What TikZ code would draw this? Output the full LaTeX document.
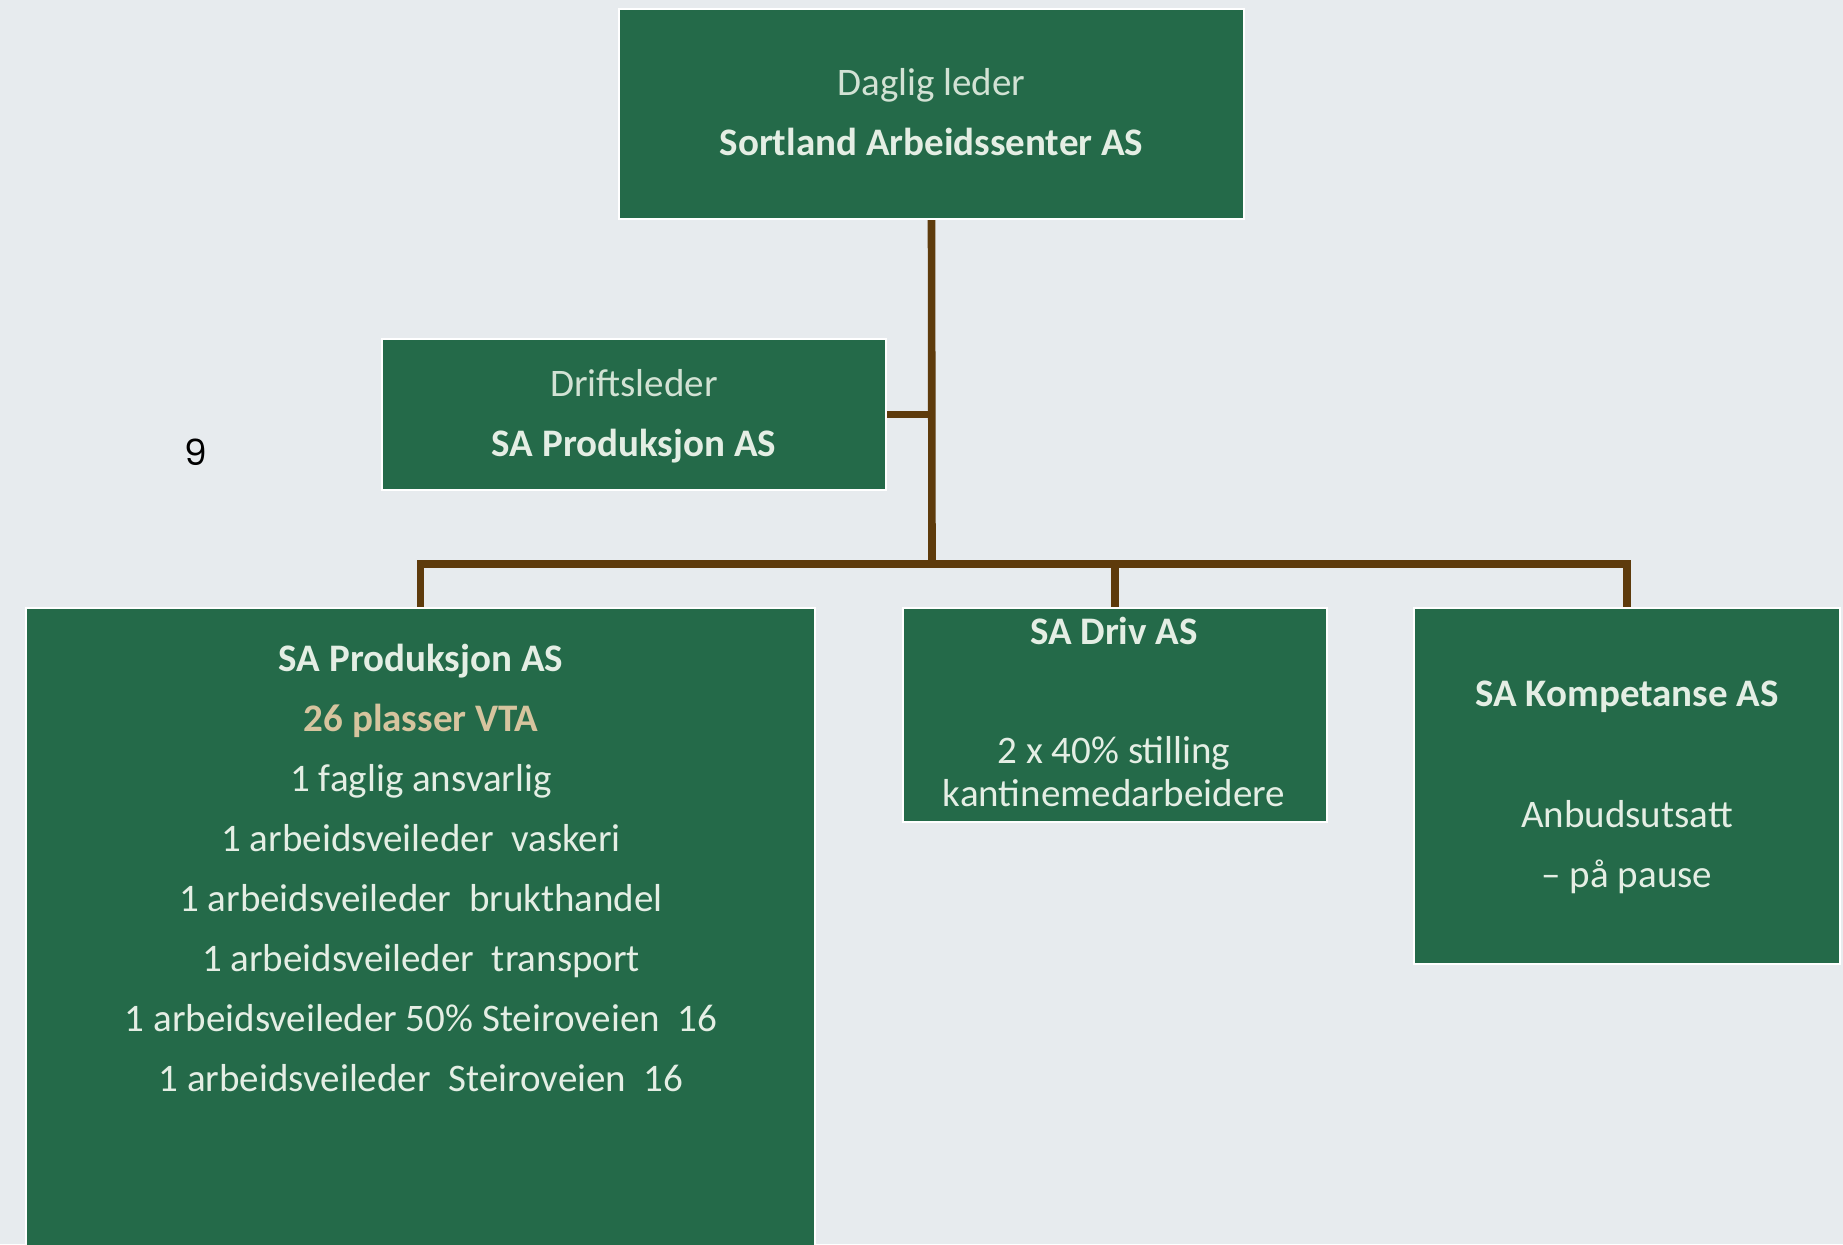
\documentclass[tikz,border=0pt]{standalone}
\usepackage{fontspec}
\setmainfont{Carlito}
\newfontfamily\ninefont{Poppins}
\definecolor{bg}{HTML}{E7EBEE}
\definecolor{boxgreen}{HTML}{246A49}
\definecolor{txt}{HTML}{E4EEE4}
\definecolor{dim}{HTML}{D2E2D4}
\definecolor{tanc}{HTML}{D6C49E}
\definecolor{linec}{HTML}{5E3B0C}
\tikzset{
  orgbox/.style={draw=white, line width=1.2pt, fill=boxgreen, inner sep=0pt},
  orgtext/.style={text=txt, align=center, inner sep=0pt, font=\fontsize{19.5}{30}\selectfont},
  conn/.style={draw=linec, line width=3.8pt}
}
\begin{document}
\begin{tikzpicture}[x=0.5pt,y=-0.5pt]
\useasboundingbox (0,0) rectangle (1843,1244);
\fill[bg] (0,0) rectangle (1843,1244);
\clip (0,0) rectangle (1843,1244);
% boxes
\node[orgbox, minimum width=312.5pt, minimum height=105pt] (top) at (931.5,114) {};
\node[orgbox, minimum width=252pt, minimum height=75.5pt] (drift) at (634,414.5) {};
\node[orgbox, minimum width=394.5pt, minimum height=326pt] (prod) at (420.5,934) {};
\node[orgbox, minimum width=212pt, minimum height=107pt] (driv) at (1115,715) {};
\node[orgbox, minimum width=213pt, minimum height=178pt] (komp) at (1627,786) {};
% connectors
\coordinate (j) at (932,564);
\draw[conn] (top.south) -- (j);
\draw[conn] (drift.east) -- (drift.east -| j);
\draw[conn] (prod.north) |- (j) -| (komp.north);
\draw[conn] (driv.north) -- (driv.north |- j);
% texts
\node[orgtext] (toptxt) at (931.5,112) {{\color{dim}Daglig leder}\\\textbf{Sortland Arbeidssenter AS}};
\node[orgtext] (drifttxt) at (634,416) {{\color{dim}Driftsleder}\\\textbf{SA Produksjon AS}};
\node[orgtext] (prodtxt) at (421,868) {\textbf{SA Produksjon AS}\\
  {\color{tanc}\textbf{26 plasser VTA}}\\
  1 faglig ansvarlig\\
  1 arbeidsveileder\ \ vaskeri\\
  1 arbeidsveileder\ \ brukthandel\\
  1 arbeidsveileder\ \ transport\\
  1 arbeidsveileder\ 50\%\ Steiroveien\ \ 16\\
  1 arbeidsveileder\ \ Steiroveien\ \ 16};
\node[orgtext] (drivtitle) at (1114,631) {\textbf{SA Driv AS}};
\node[orgtext, font=\fontsize{19.5}{21.5}\selectfont] (drivtxt) at (1114,772) {2 x 40\% stilling\\kantinemedarbeidere};
\node[orgtext] (komptitle) at (1627,697) {\textbf{SA Kompetanse AS}};
\node[orgtext] (komptxt) at (1627,847) {Anbudsutsatt\\– på pause};
\node[text=black, inner sep=0pt, font=\ninefont\fontsize{18}{20}\selectfont] (nine) at (196,452) {9};
\end{tikzpicture}
\end{document}
